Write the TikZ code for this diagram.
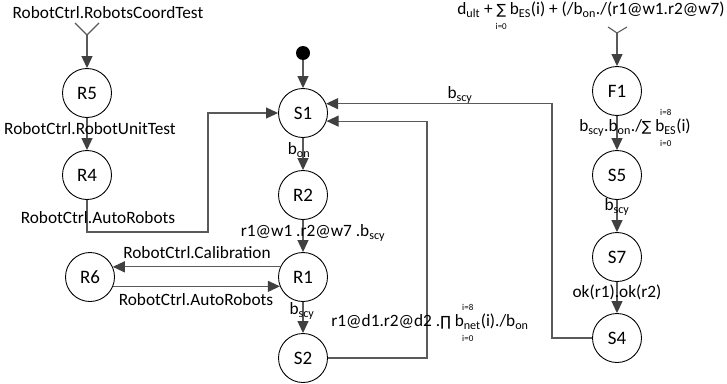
\documentclass[tikz,border=0pt]{standalone}
\usepackage{fontspec}
\setmainfont{Carlito}
\newfontfamily\symfont{DejaVu Sans}
\usetikzlibrary{positioning,arrows.meta}
\definecolor{cline}{HTML}{5A5A5A}
\definecolor{ctip}{HTML}{404040}
\tikzset{
  state/.style ={circle,draw=black,line width=0.9pt,minimum size=49pt,inner sep=0pt,
                 font=\fontsize{19}{22}\selectfont},
  start/.style ={circle,fill=black,minimum size=14pt,inner sep=0pt},
  lbl/.style   ={font=\fontsize{17.3}{20}\selectfont,inner sep=1pt},
  arr/.style   ={-{Triangle[length=12pt,width=11pt,color=ctip]},line width=1.1pt,cline},
  wire/.style  ={line width=1.1pt,cline},
}
\newcommand{\sub}[1]{\textsubscript{#1}}
\newcommand{\bigsym}[1]{{\symfont\fontsize{14}{14}\selectfont#1}}
\newsavebox\limbox
\newcommand{\lims}[3]{\sbox\limbox{#3}%
  \rlap{\hbox to\wd\limbox{\hss\raisebox{0.95em}{\fontsize{9}{9}\selectfont#1}\hss}}%
  \rlap{\hbox to\wd\limbox{\hss\raisebox{-0.85em}{\fontsize{9}{9}\selectfont#2}\hss}}%
  \usebox\limbox}

\begin{document}
\begin{tikzpicture}[x=1pt,y=-1pt]
 \useasboundingbox (0,0) rectangle (727,383);
 % states
 \node[state] (R5) at (87,93) {R5};
 \node[state] (R4) at (87,175) {R4};
 \node[state] (R6) at (90,277) {R6};
 \node[start] (st) at (303,53) {};
 \node[state] (S1) at (303,113) {S1};
 \node[state] (R2) at (303,195) {R2};
 \node[state] (R1) at (303,277) {R1};
 \node[state] (S2) at (303,358) {S2};
 \node[state] (F1) at (617,91) {F1};
 \node[state] (S5) at (617,175) {S5};
 \node[state] (S7) at (617,257) {S7};
 \node[state] (S4) at (617,338) {S4};
 % inputs
 \node[lbl] (inL) at (108,13) {RobotCtrl.RobotsCoordTest};
 \node[lbl] (inR) at (591,14) {d\sub{ult} + \lims{}{i=0}{\bigsym{∑}} b\sub{ES}(i) + (/b\sub{on}./(r1@w1.r2@w7)};
 \coordinate (fkL) at (87,35);
 \coordinate (fkR) at (617,33);
 \draw[wire] (75,23) -- (fkL) -- (99,23);
 \draw[wire] (608,27) -- (fkR) -- (627,27);
 \draw[arr] (fkL) -- (R5);
 \draw[arr] (fkR) -- (F1);
 % left column
 \draw[arr] (R5) -- (R4);
 \node[lbl] (lUnit) at (90,129) {RobotCtrl.RobotUnitTest};
 \coordinate (c1) at (208,232);
 \draw[arr] (R4.south) |- (c1) |- (S1.west);
 \node[lbl] (lAuto) at (98,218) {RobotCtrl.AutoRobots};
 \draw[arr] (R1.156) -- (R6.24);
 \node[lbl] (lCal) at (197,253) {RobotCtrl.Calibration};
 \draw[arr] (R6.-22) -- (R1.202);
 \node[lbl] (lAuto2) at (196,300) {RobotCtrl.AutoRobots};
 % middle column
 \draw[arr] (st) -- (S1);
 \draw[arr] (S1) -- (R2);
 \node[lbl] (lOn) at (299,150) {b\sub{on}};
 \draw[arr] (R2) -- (R1);
 \node[lbl] (lW) at (313,233) {r1@w1 .r2@w7 .b\sub{scy}};
 \draw[arr] (R1) -- (S2);
 \node[lbl] (lScy) at (302,311) {b\sub{scy}};
 \coordinate (c2) at (427,358);
 \draw[arr] (S2.east) -- (c2) |- (S1.-19);
 \node[lbl] (lD) at (430,323) {r1@d1.r2@d2 .\bigsym{∏} \lims{i=8}{i=0}{b\sub{net}}(i)./b\sub{on}};
 \coordinate (c3) at (552,338);
 \draw[arr] (S4.west) -- (c3) |- (S1.22);
 \node[lbl] (lBack) at (460,95) {b\sub{scy}};
 % right column
 \draw[arr] (F1) -- (S5);
 \node[lbl] (lES) at (635,128) {b\sub{scy}.b\sub{on}./\bigsym{∑} \lims{i=8}{i=0}{b\sub{ES}}(i)};
 \draw[arr] (S5) -- (S7);
 \node[lbl] (lScy2) at (617,207) {b\sub{scy}};
 \draw[arr] (S7) -- (S4);
 \node[lbl] (lOk) at (617,292) {ok(r1).ok(r2)};
\end{tikzpicture}
\end{document}
